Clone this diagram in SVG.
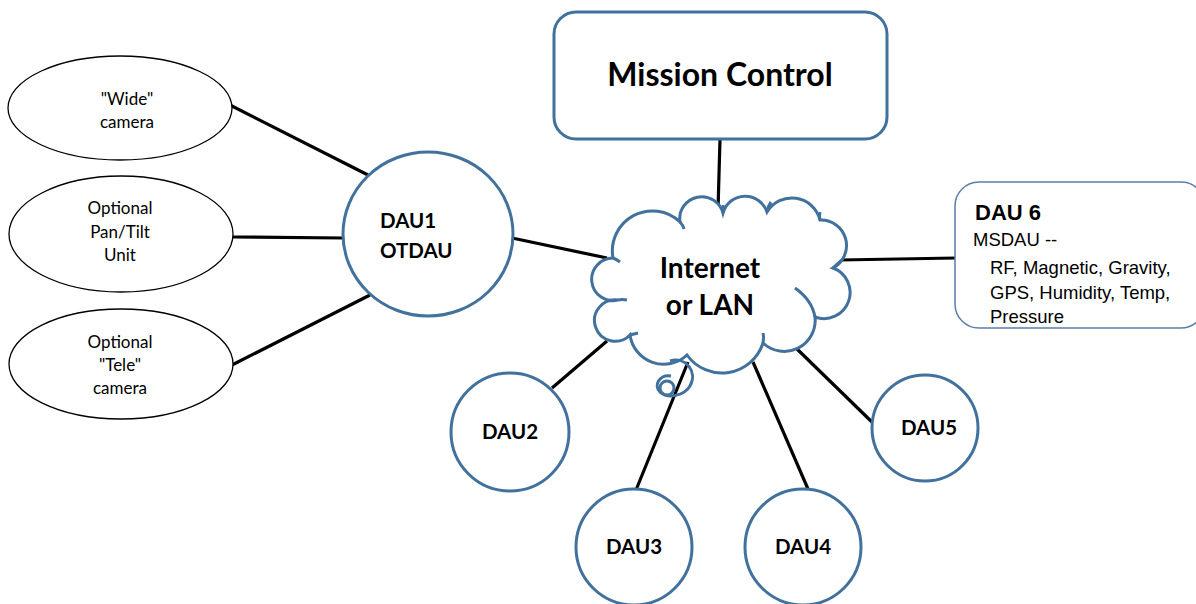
<svg xmlns="http://www.w3.org/2000/svg" width="1196" height="604" viewBox="0 0 1196 604">
<style>
.blue{fill:#fff;stroke:#41719C;stroke-width:3}
.ell{fill:#fff;stroke:#000;stroke-width:1.3}
.conn line{stroke:#000;stroke-width:3.2}
.t{font-family:Lato,"Open Sans",sans-serif;fill:#000}
.b{font-weight:bold}
.a{font-family:"Liberation Sans",Arial,sans-serif;fill:#000}
</style>
<rect width="1196" height="604" fill="#fff"/>
<g class="conn" id="connectors">
<line x1="230" y1="105" x2="368" y2="175"/>
<line x1="233" y1="237" x2="343" y2="238"/>
<line x1="232" y1="365" x2="370" y2="295"/>
<line x1="512" y1="238" x2="607" y2="258"/>
<line x1="720" y1="139" x2="718" y2="210"/>
<line x1="840" y1="260" x2="956" y2="258"/>
<line x1="552" y1="388" x2="607" y2="341"/>
<line x1="636" y1="490" x2="688" y2="362"/>
<line x1="753" y1="362" x2="808" y2="489"/>
<line x1="797" y1="349" x2="874" y2="424"/>
</g>
<g id="wide"><ellipse class="ell" cx="120" cy="108" rx="112" ry="52"/>
<text class="t" font-size="17" text-anchor="middle"><tspan x="127" y="105">"Wide"</tspan><tspan x="127" y="128">camera</tspan></text></g>
<g id="pantilt"><ellipse class="ell" cx="121" cy="234" rx="112" ry="58"/>
<text class="t" font-size="17" text-anchor="middle"><tspan x="120" y="214">Optional</tspan><tspan x="120" y="238">Pan/Tilt</tspan><tspan x="120" y="261">Unit</tspan></text></g>
<g id="tele"><ellipse class="ell" cx="121" cy="364" rx="112" ry="55"/>
<text class="t" font-size="17" text-anchor="middle"><tspan x="120" y="348">Optional</tspan><tspan x="120" y="371">"Tele"</tspan><tspan x="120" y="394">camera</tspan></text></g>
<g id="dau1"><ellipse class="blue" cx="428" cy="234" rx="85" ry="82"/>
<text class="t b" font-size="20.5"><tspan x="380" y="228">DAU1</tspan><tspan x="380" y="258">OTDAU</tspan></text></g>
<g id="mission"><rect class="blue" x="554" y="12" width="333" height="127" rx="22"/>
<text class="t b" font-size="32" x="720" y="86" text-anchor="middle">Mission Control</text></g>
<g id="cloud">
<path class="blue" d="M613,258 A40,40 0 0 1 680,222 A22,22 0 0 1 723,213 A23,23 0 0 1 767,212 A29,29 0 0 1 820,220 A25.5,25.5 0 0 1 833,268 A26,26 0 0 1 815,317 A31,31 0 0 1 763,343 A43,43 0 0 1 687,355 A34,34 0 0 1 630,335 A20.7,20.7 0 1 1 618,300 A21.3,21.3 0 1 1 613,258 Z"/>
<g fill="none" stroke="#41719C" stroke-width="3">
<path d="M613,258 Q616,259 620,262"/>
<path d="M680,222 Q683,225 684,229"/>
<path d="M723,213 Q724,209 723,205"/>
<path d="M767,212 Q768,206 771,202"/>
<path d="M820,220 Q819,216 820,212"/>
<path d="M833,268 Q838,263 842,260"/>
<path d="M815,317 Q812,300 795,288"/>
<path d="M763,343 Q764,337 763,333"/>
<path d="M630,335 Q634,334 638,333"/>
<path d="M618,300 Q622,299 627,300"/>
<path d="M670,361 C686,356 698,372 690,386 C684,396 668,399 660,392 C653,385 660,374 671,376"/>
<circle cx="667" cy="388" r="7"/>
</g>
<text class="t b" font-size="28" text-anchor="middle"><tspan x="710" y="278">Internet</tspan><tspan x="710" y="315">or LAN</tspan></text></g>
<g id="dau6"><rect x="955" y="182" width="250" height="146" rx="24" fill="#fff" stroke="#5B7FA8" stroke-width="1.5"/>
<text class="a b" font-size="22" x="975" y="220">DAU 6</text>
<text class="a" font-size="18.5"><tspan x="973" y="246">MSDAU --</tspan><tspan x="990" y="274">RF, Magnetic, Gravity,</tspan><tspan x="990" y="299">GPS, Humidity, Temp,</tspan><tspan x="990" y="323">Pressure</tspan></text></g>
<g id="dau2"><circle class="blue" cx="510" cy="432" r="59"/><text class="t b" font-size="20.5" x="510" y="439" text-anchor="middle">DAU2</text></g>
<g id="dau3"><circle class="blue" cx="634" cy="547" r="58"/><text class="t b" font-size="20.5" x="634" y="554" text-anchor="middle">DAU3</text></g>
<g id="dau4"><circle class="blue" cx="803" cy="547" r="58"/><text class="t b" font-size="20.5" x="803" y="554" text-anchor="middle">DAU4</text></g>
<g id="dau5"><circle class="blue" cx="925" cy="428" r="53"/><text class="t b" font-size="20.5" x="929" y="435" text-anchor="middle">DAU5</text></g>
</svg>
